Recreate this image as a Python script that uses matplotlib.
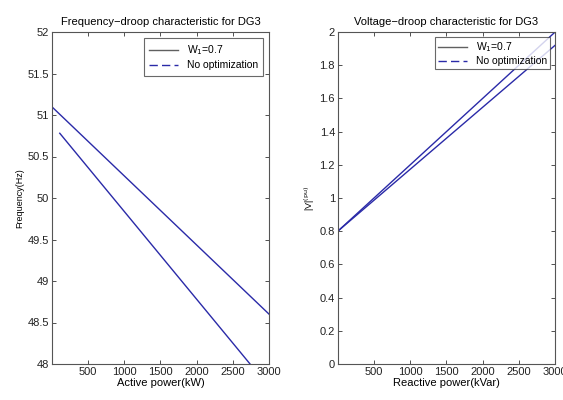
import matplotlib
matplotlib.use("Agg")
import matplotlib.pyplot as plt

plt.rcParams['font.family'] = ['Liberation Sans', 'DejaVu Sans']

# frequency droop (active power kW -> Hz)
p_w1 = [0, 3000]
f_w1 = [51.1, 48.6]
p_noopt = [110, 2737]
f_noopt = [50.78, 48.0]

# voltage droop (reactive power kVar -> pu)
q_w1 = [0, 3000]
v_w1 = [0.8, 2.0]
q_noopt = [0, 3000]
v_noopt = [0.8, 1.92]

xticks = [500, 1000, 1500, 2000, 2500, 3000]
fticks = [48, 48.5, 49, 49.5, 50, 50.5, 51, 51.5, 52]
fticklabels = ['48', '48.5', '49', '49.5', '50', '50.5', '51', '51.5', '52']
vticks = [0, 0.2, 0.4, 0.6, 0.8, 1, 1.2, 1.4, 1.6, 1.8, 2]
vticklabels = ['0', '0.2', '0.4', '0.6', '0.8', '1', '1.2', '1.4', '1.6', '1.8', '2']

blue = '#2a2aa8'
grey = '#606060'

fig = plt.figure(figsize=(5.63, 4.0), dpi=100)
ax1 = fig.add_axes([0.092, 0.09, 0.386, 0.83])
ax2 = fig.add_axes([0.600, 0.09, 0.386, 0.83])


def style(ax):
    ax.tick_params(direction='in', length=3, width=0.6, labelsize=8,
                   top=True, right=True, pad=2, colors='#333333',
                   labelcolor='#222222')
    for s in ax.spines.values():
        s.set_linewidth(0.8)
        s.set_color('#555555')


# left panel
ax1.plot(p_w1, f_w1, color=blue, lw=1.0)
ax1.plot(p_noopt, f_noopt, color=blue, lw=1.0)
ax1.plot([], [], color=grey, lw=1.0, label='W$_1$=0.7')
ax1.plot([], [], color=blue, lw=1.0, ls=(0, (6, 3)), label='No optimization')
ax1.set_xlim(0, 3000)
ax1.set_ylim(48, 52)
ax1.set_xticks(xticks)
ax1.set_yticks(fticks)
ax1.set_yticklabels(fticklabels)
ax1.set_title('Frequency\u2212droop characteristic for DG3', fontsize=8, pad=5)
ax1.set_xlabel('Active power(kW)', fontsize=8, labelpad=1)
ax1.set_ylabel('Frequency(Hz)', fontsize=6.5, labelpad=2)
style(ax1)
leg = ax1.legend(loc='upper right', fontsize=7.5, fancybox=False,
                 handlelength=2.8, borderpad=0.5, labelspacing=0.3,
                 borderaxespad=0.6)
leg.get_frame().set_edgecolor('#444444')
leg.get_frame().set_linewidth(0.8)

# right panel
ax2.plot(q_w1, v_w1, color=blue, lw=1.0)
ax2.plot(q_noopt, v_noopt, color=blue, lw=1.0)
ax2.plot([], [], color=grey, lw=1.0, label='W$_1$=0.7')
ax2.plot([], [], color=blue, lw=1.0, ls=(0, (6, 3)), label='No optimization')
ax2.set_xlim(0, 3000)
ax2.set_ylim(0, 2)
ax2.set_xticks(xticks)
ax2.set_yticks(vticks)
ax2.set_yticklabels(vticklabels)
ax2.set_title('Voltage\u2212droop characteristic for DG3', fontsize=8, pad=5)
ax2.set_xlabel('Reactive power(kVar)', fontsize=8, labelpad=1)
ax2.set_ylabel(r'|V|$^{\rm (pu)}$', fontsize=6.5, labelpad=2)
style(ax2)
leg2 = ax2.legend(loc='upper right', fontsize=7.5, fancybox=False,
                  handlelength=2.8, borderpad=0.3, labelspacing=0.2,
                  borderaxespad=0.5)
leg2.get_frame().set_edgecolor('#444444')
leg2.get_frame().set_linewidth(0.8)

fig.savefig('out.png', dpi=100)
